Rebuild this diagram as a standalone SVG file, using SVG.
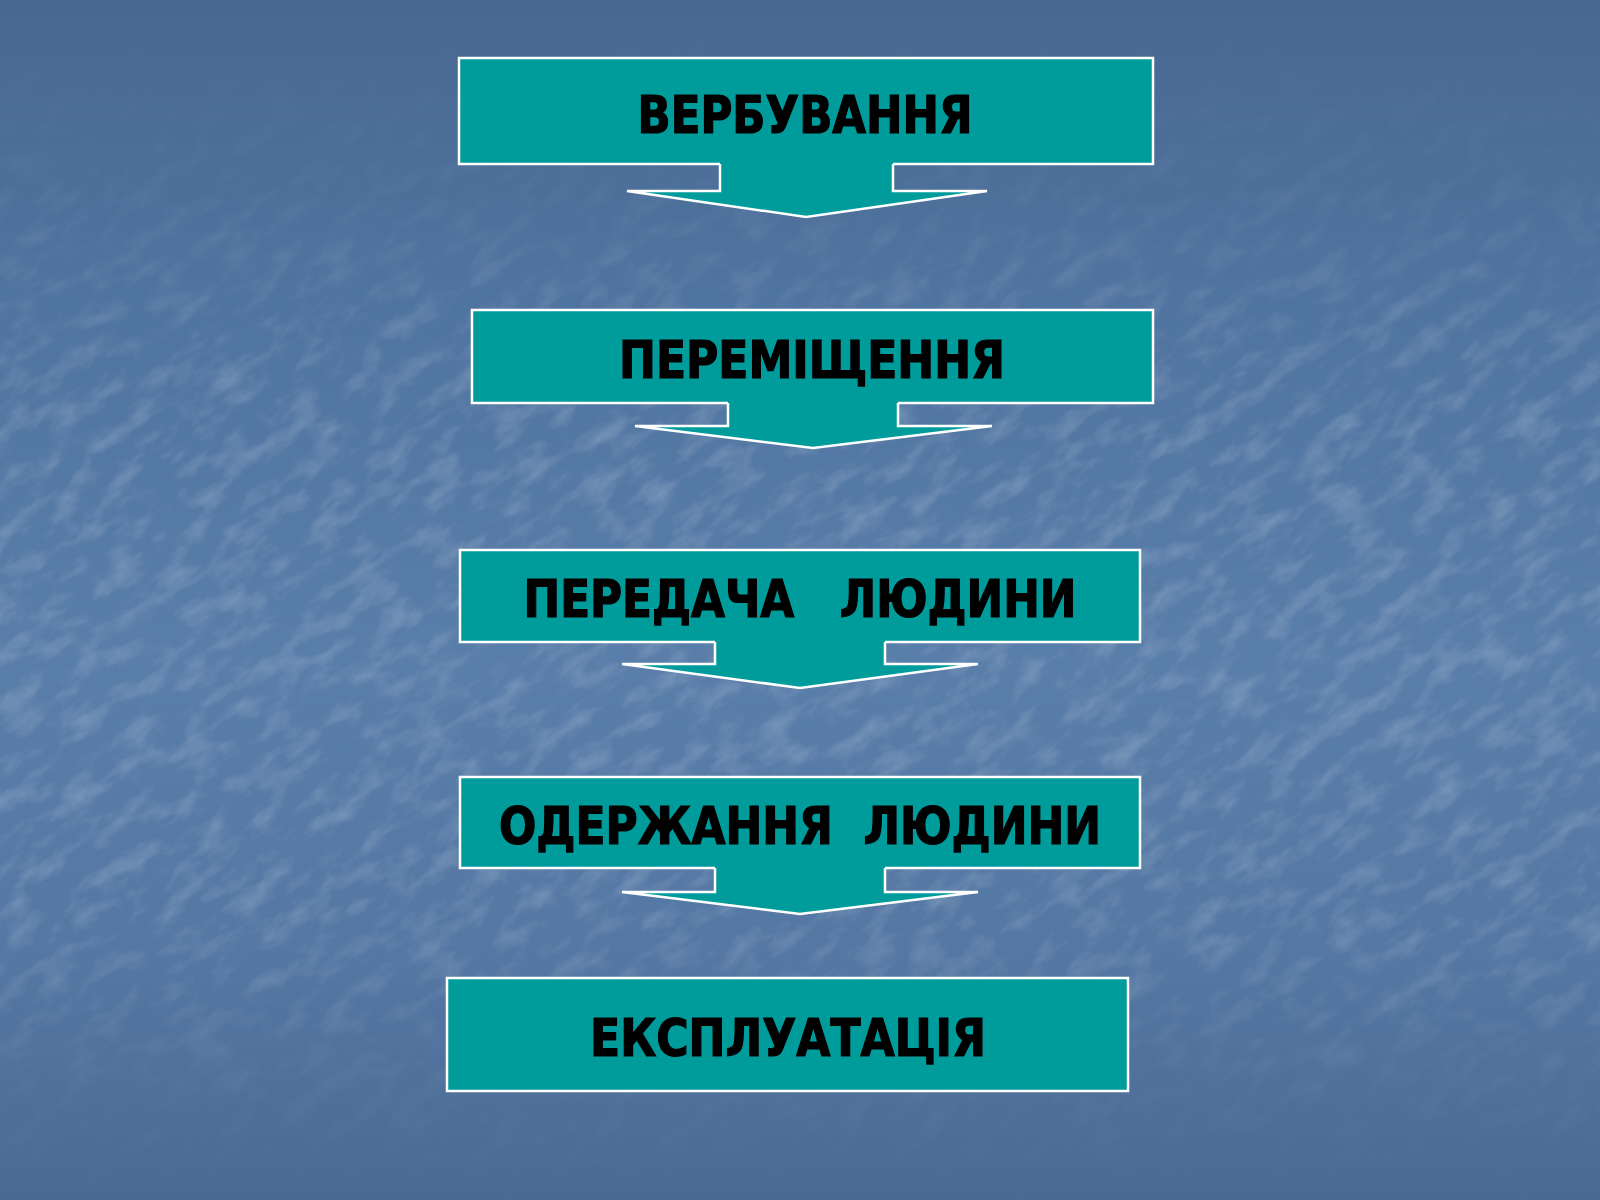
<svg xmlns="http://www.w3.org/2000/svg" width="1600" height="1200" viewBox="0 0 1600 1200">
  <defs>
    <linearGradient id="bg" x1="0" y1="0" x2="0" y2="1">
      <stop offset="0" stop-color="#476891"/>
      <stop offset="0.25" stop-color="#5074a0"/>
      <stop offset="0.55" stop-color="#5a7eaa"/>
      <stop offset="0.8" stop-color="#5477a3"/>
      <stop offset="1" stop-color="#4a6a93"/>
    </linearGradient>
    <linearGradient id="texMaskGrad" x1="0" y1="0" x2="0" y2="1">
      <stop offset="0" stop-color="#000"/>
      <stop offset="0.15" stop-color="#333"/>
      <stop offset="0.35" stop-color="#fff"/>
      <stop offset="0.75" stop-color="#fff"/>
      <stop offset="0.9" stop-color="#444"/>
      <stop offset="1" stop-color="#000"/>
    </linearGradient>
    <mask id="texMask">
      <rect x="0" y="0" width="1600" height="1200" fill="url(#texMaskGrad)"/>
    </mask>
    <filter id="tex" x="0" y="0" width="100%" height="100%">
      <feTurbulence type="fractalNoise" baseFrequency="0.025 0.05" numOctaves="5" seed="11" result="n"/>
      <feColorMatrix in="n" type="matrix" values="0 0 0 0 1  0 0 0 0 1  0 0 0 0 1  1.8 0 0 0 -0.8"/>
    </filter>
    <style>
      .box { fill: #009b9b; stroke: #ffffff; stroke-width: 2.5; }
      .afill { fill: #009b9b; stroke: none; }
      .aline { fill: none; stroke: #ffffff; stroke-width: 2.5; stroke-linejoin: miter; }
      .lbl { font-family: "DejaVu Sans Condensed", "DejaVu Sans", "Liberation Sans", sans-serif; font-stretch: condensed; font-weight: bold; font-size: 51px; fill: #000000; stroke: #000000; stroke-width: 1.2; text-anchor: middle; }
    </style>
  </defs>

  <rect x="0" y="0" width="1600" height="1200" fill="url(#bg)"/>
  <g mask="url(#texMask)" opacity="0.22">
    <rect x="-300" y="-300" width="2200" height="1800" filter="url(#tex)" transform="rotate(-35 800 600)"/>
  </g>

  <g id="node1">
    <rect class="box" x="459" y="58" width="694" height="106"/>
    <text class="lbl" x="805" y="133" textLength="335" lengthAdjust="spacingAndGlyphs">ВЕРБУВАННЯ</text>
  </g>
  <g id="node2">
    <rect class="box" x="472" y="310" width="681" height="93"/>
    <text class="lbl" x="812" y="378" textLength="386" lengthAdjust="spacingAndGlyphs">ПЕРЕМІЩЕННЯ</text>
  </g>
  <g id="node3">
    <rect class="box" x="460" y="550" width="680" height="92"/>
    <text class="lbl" x="800" y="617" textLength="553" lengthAdjust="spacingAndGlyphs" xml:space="preserve">ПЕРЕДАЧА   ЛЮДИНИ</text>
  </g>
  <g id="node4">
    <rect class="box" x="460" y="777" width="680" height="91"/>
    <text class="lbl" x="800" y="844" textLength="602" lengthAdjust="spacingAndGlyphs" xml:space="preserve">ОДЕРЖАННЯ  ЛЮДИНИ</text>
  </g>
  <g id="node5">
    <rect class="box" x="447" y="978" width="681" height="113"/>
    <text class="lbl" x="788" y="1056" textLength="396" lengthAdjust="spacingAndGlyphs">ЕКСПЛУАТАЦІЯ</text>
  </g>

  <g id="connectors">
    <polygon class="afill" points="720,162 893,162 893,191 987,191 806,217 627,191 720,191"/>
    <polyline class="aline" points="720,164 720,191 627,191 806,217 987,191 893,191 893,164"/>

    <polygon class="afill" points="728,401 898,401 898,426 992,426 813,448 635,426 728,426"/>
    <polyline class="aline" points="728,403 728,426 635,426 813,448 992,426 898,426 898,403"/>

    <polygon class="afill" points="715,640 885,640 885,664 978,664 800,688 622,664 715,664"/>
    <polyline class="aline" points="715,642 715,664 622,664 800,688 978,664 885,664 885,642"/>

    <polygon class="afill" points="715,866 885,866 885,892 978,892 800,914 622,892 715,892"/>
    <polyline class="aline" points="715,868 715,892 622,892 800,914 978,892 885,892 885,868"/>
  </g>
</svg>
